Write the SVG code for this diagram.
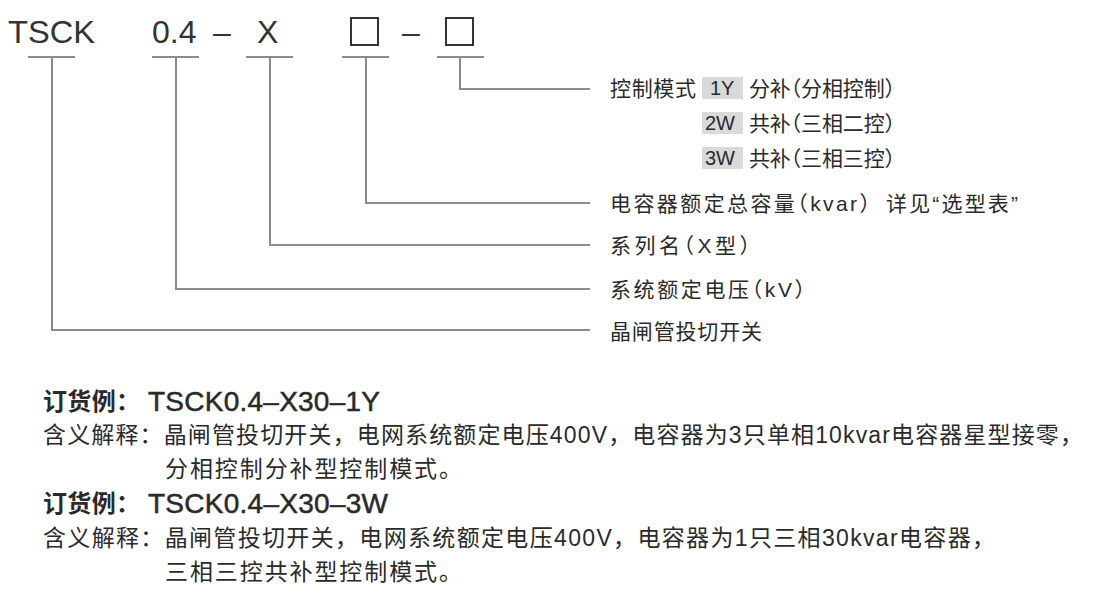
<svg xmlns="http://www.w3.org/2000/svg" width="1098" height="604" viewBox="0 0 1098 604">
<style>
.t{font-family:"Liberation Sans","Noto Sans CJK SC",sans-serif;fill:#2a2a2a}
.title{font-size:32px;fill:#333}
.lab{font-size:21px;font-feature-settings:"halt"}
.tg{font-size:20px}
.body{font-size:23px}
.bcjk{font-size:24px;font-weight:bold}
.blat{font-size:28px;stroke:#2a2a2a;stroke-width:0.5}
.ln{stroke:#8c8c8c;stroke-width:2;fill:none}
.tag{fill:#d9d9d9}
.box{fill:none;stroke:#333;stroke-width:2}
</style>
<rect width="1098" height="604" fill="#ffffff"/>
<g id="code">
<text class="t title" x="8" y="43" textLength="87" lengthAdjust="spacingAndGlyphs">TSCK</text>
<text class="t title" x="152" y="43">0.4</text>
<text class="t title" x="213" y="43">–</text>
<text class="t title" x="257" y="43">X</text>
<rect class="box" x="351" y="18" width="27" height="27"/>
<text class="t title" x="402" y="43">–</text>
<rect class="box" x="446" y="18" width="27" height="27"/>
</g>
<g id="connectors">
<path class="ln" d="M28 57H75M52 57V330H590"/>
<path class="ln" d="M152 57H199M176 57V289H590"/>
<path class="ln" d="M246 57H293M270 57V245H590"/>
<path class="ln" d="M342 57H389M366 57V203H590"/>
<path class="ln" d="M437 57H484M460 57V89H590"/>
</g>
<g id="mode">
<text class="t lab" x="610" y="96" textLength="86" lengthAdjust="spacing">控制模式</text>
<rect class="tag" x="702" y="77" width="41" height="22"/>
<text class="t tg" x="710" y="95">1Y</text>
<text class="t lab" x="749" y="96" textLength="146" lengthAdjust="spacing">分补（分相控制）</text>
<rect class="tag" x="702" y="112" width="41" height="22"/>
<text class="t tg" x="705" y="130">2W</text>
<text class="t lab" x="749" y="131" textLength="146" lengthAdjust="spacing">共补（三相二控）</text>
<rect class="tag" x="702" y="147" width="41" height="22"/>
<text class="t tg" x="705" y="165">3W</text>
<text class="t lab" x="749" y="166" textLength="146" lengthAdjust="spacing">共补（三相三控）</text>
</g>
<g id="capacity">
<text class="t lab" x="610" y="211" textLength="260" lengthAdjust="spacing">电容器额定总容量（kvar）</text>
<text class="t lab" x="886" y="211" textLength="132" lengthAdjust="spacing">详见“选型表”</text>
</g>
<g id="series">
<text class="t lab" x="610" y="253" textLength="140" lengthAdjust="spacing">系列名（X型）</text>
</g>
<g id="voltage">
<text class="t lab" x="610" y="297" textLength="195" lengthAdjust="spacing">系统额定电压（kV）</text>
</g>
<g id="switch">
<text class="t lab" x="610" y="339" textLength="152" lengthAdjust="spacing">晶闸管投切开关</text>
</g>
<g id="examples">
<text class="t bcjk" x="43" y="410" textLength="97" lengthAdjust="spacing">订货例：</text>
<text class="t blat" x="148" y="411" textLength="232" lengthAdjust="spacing">TSCK0.4–X30–1Y</text>
<text class="t body" x="43" y="443" textLength="1040" lengthAdjust="spacing">含义解释：晶闸管投切开关，电网系统额定电压400V，电容器为3只单相10kvar电容器星型接零，</text>
<text class="t body" x="165" y="477" textLength="297" lengthAdjust="spacing">分相控制分补型控制模式。</text>
<text class="t bcjk" x="43" y="512" textLength="97" lengthAdjust="spacing">订货例：</text>
<text class="t blat" x="148" y="513" textLength="240" lengthAdjust="spacing">TSCK0.4–X30–3W</text>
<text class="t body" x="43" y="546" textLength="952" lengthAdjust="spacing">含义解释：晶闸管投切开关，电网系统额定电压400V，电容器为1只三相30kvar电容器，</text>
<text class="t body" x="165" y="580" textLength="297" lengthAdjust="spacing">三相三控共补型控制模式。</text>
</g>
</svg>
